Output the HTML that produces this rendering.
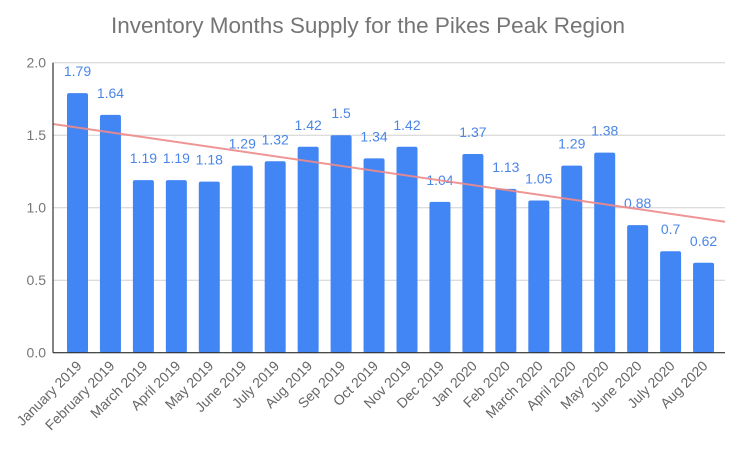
<!DOCTYPE html>
<html><head><meta charset="utf-8"><style>
body{margin:0;background:#fff;font-family:"Liberation Sans",Arial,sans-serif}
</style></head><body>
<svg width="737" height="444" xmlns="http://www.w3.org/2000/svg">
<text x="368" y="33" text-anchor="middle" font-size="22.5" fill="#757575">Inventory Months Supply for the Pikes Peak Region</text>
<g id="grid"></g><g id="bars"></g><g id="labels"></g><g id="xl"></g>
</svg>
<script>
const categories=["January 2019","February 2019","March 2019","April 2019","May 2019","June 2019","July 2019","Aug 2019","Sep 2019","Oct 2019","Nov 2019","Dec 2019","Jan 2020","Feb 2020","March 2020","April 2020","May 2020","June 2020","July 2020","Aug 2020"];
const values=[1.79,1.64,1.19,1.19,1.18,1.29,1.32,1.42,1.5,1.34,1.42,1.04,1.37,1.13,1.05,1.29,1.38,0.88,0.7,0.62];
const valueLabels=["1.79","1.64","1.19","1.19","1.18","1.29","1.32","1.42","1.5","1.34","1.42","1.04","1.37","1.13","1.05","1.29","1.38","0.88","0.7","0.62"];
const yTicks=[0,0.5,1,1.5,2];
const yTickLabels=["0.0","0.5","1.0","1.5","2.0"];
const trend=[1.577,0.903];
const NS="http://www.w3.org/2000/svg";
const X0=53,X1=725,Y0=352.7,Y1=62.7;
const y=v=>Y0-(v/2)*(Y0-Y1);
const xc=i=>77.5+i*32.95;
function mk(t,a,p){const e=document.createElementNS(NS,t);for(const k in a)e.setAttribute(k,a[k]);p.appendChild(e);return e;}
const svg=document.querySelector('svg');
const grid=document.getElementById('grid');
yTicks.forEach((v,i)=>{
 const l=mk('line',{x1:X0,x2:X1,y1:y(v),y2:y(v),stroke:'#d0d0d0','stroke-width':1},grid);
 
 
 const t=mk('text',{x:46,y:y(v)+5,'text-anchor':'end','font-size':14,fill:'#777'},grid);
 t.textContent=yTickLabels[i];
 
 
});
const bars=document.getElementById('bars'),labels=document.getElementById('labels'),xl=document.getElementById('xl');
values.forEach((v,i)=>{
 const r=mk('rect',{x:xc(i)-10.5,y:y(v),width:21,height:Y0-y(v),rx:2,fill:'#4285f4'},bars);
 
 
 const t=mk('text',{x:xc(i),y:y(v)-17,'text-anchor':'middle','font-size':14,fill:'#4a86e8'},labels);
 t.textContent=valueLabels[i];
 
 
 const c=mk('text',{x:xc(i)+5,y:Y0+14,'text-anchor':'end','font-size':14,fill:'#666',transform:`rotate(-45 ${xc(i)+5} ${Y0+14})`},xl);
 c.textContent=categories[i];
 
 
});
const tl=mk('line',{x1:X0,x2:X1,y1:y(trend[0]),y2:y(trend[1]),stroke:'#ef8a8a','stroke-width':2,opacity:0.9},svg);


const ax=mk('line',{x1:X0,x2:X1,y1:Y0,y2:Y0,stroke:'#333','stroke-width':1.2},svg);


const ay=mk('line',{x1:X0,x2:X0,y1:Y1,y2:Y0,stroke:'#333','stroke-width':1.2},svg);


</script>
</body></html>
